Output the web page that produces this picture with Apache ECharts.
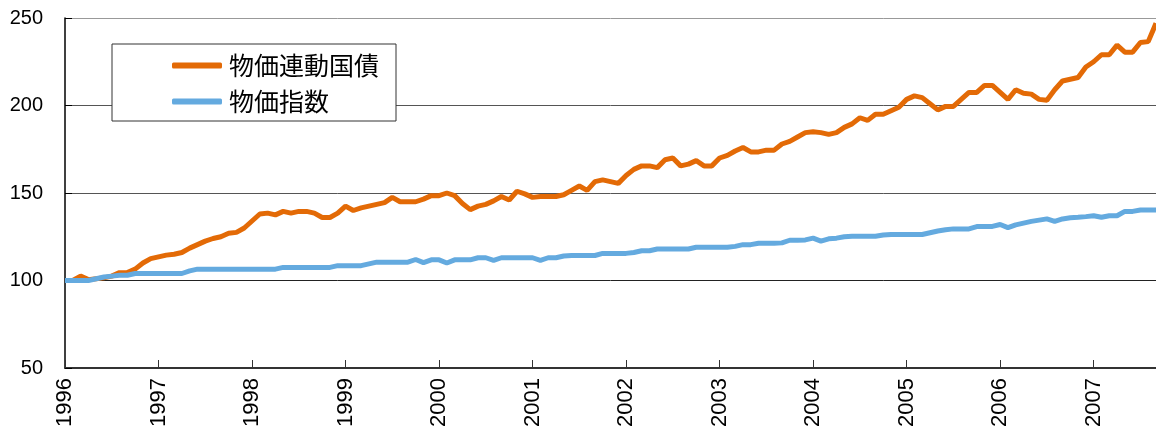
<!DOCTYPE html>
<html>
<head>
<meta charset="utf-8">
<script src="https://cdn.jsdelivr.net/npm/echarts@6/dist/echarts.min.js"></script>
<style>
  html, body { margin: 0; padding: 0; background: #fff; }
  #main { width: 1156px; height: 433px; }
</style>
</head>
<body>
<div id="main"></div>
<script>
// 年ラベル（1月の位置に表示）
var years = ['1996', '1997', '1998', '1999', '2000', '2001', '2002', '2003', '2004', '2005', '2006', '2007'];
var monthCount = 141; // 1996/01 - 2007/09

var seriesNames = ['物価連動国債', '物価指数'];

// 物価連動国債（1996/01 = 100）
var bondIndex = [
    100, 100, 102.5, 100.5, 101, 101.5, 102.5, 104.5, 104.5, 106.5, 110, 112.5,
    113.5, 114.5, 115, 116, 118.5, 120.5, 122.5, 124, 125, 127, 127.5, 130,
    134, 138, 138.5, 137.5, 139.5, 138.5, 139.5, 139.5, 138.5, 136, 136, 138.5,
    142.5, 140, 141.5, 142.5, 143.5, 144.5, 147.5, 145, 145, 145, 146.5, 148.5,
    148.5, 150, 148.5, 144, 140.5, 142.5, 143.5, 145.5, 148, 146, 151, 149.5,
    147.5, 148, 148, 148, 149, 151.5, 154, 151.5, 156.5, 157.5, 156.5, 155.5,
    160, 163.5, 165.5, 165.5, 164.5, 169, 170, 165.5, 166.5, 168.5, 165.5, 165.5,
    170, 171.5, 174, 176, 173.5, 173.5, 174.5, 174.5, 178, 179.5, 182, 184.5,
    185, 184.5, 183.5, 184.5, 187.5, 189.5, 193, 191.5, 195, 195, 197, 199,
    203.5, 205.5, 204.5, 201, 197.5, 199.5, 199.5, 203.5, 207.5, 207.5, 211.5, 211.5,
    207.5, 203.5, 209, 207, 206.5, 203.5, 203, 209, 214, 215, 216, 222,
    225, 229, 229, 234.5, 230.5, 230.5, 236, 236.5, 247
];

// 物価指数（1996/01 = 100）
var priceIndex = [
    100, 100, 100, 100, 101, 102, 102.5, 103, 103, 104, 104, 104,
    104, 104, 104, 104, 105.5, 106.5, 106.5, 106.5, 106.5, 106.5, 106.5, 106.5,
    106.5, 106.5, 106.5, 106.5, 107.5, 107.5, 107.5, 107.5, 107.5, 107.5, 107.5, 108.5,
    108.5, 108.5, 108.5, 109.5, 110.5, 110.5, 110.5, 110.5, 110.5, 112, 110.2, 111.8,
    111.8, 110, 111.8, 111.8, 111.8, 113, 113, 111.5, 113, 113, 113, 113,
    113, 111.5, 113, 113, 114, 114.3, 114.3, 114.3, 114.3, 115.5, 115.5, 115.5,
    115.5, 116, 117, 117, 118, 118, 118, 118, 118, 119, 119, 119,
    119, 119, 119.5, 120.5, 120.5, 121.3, 121.3, 121.3, 121.5, 123, 123, 123.2,
    124.2, 122.5, 123.8, 124.2, 125, 125.3, 125.3, 125.3, 125.3, 126, 126.3, 126.3,
    126.3, 126.3, 126.3, 127.3, 128.3, 129, 129.5, 129.5, 129.5, 130.8, 130.9, 130.9,
    132, 130.2, 131.8, 132.8, 133.8, 134.5, 135.2, 133.8, 135.2, 135.8, 136.1, 136.5,
    137, 136.1, 137, 137, 139.5, 139.5, 140.3, 140.3, 140.3
];

var months = [];
years.forEach(function (y) {
    for (var m = 1; m <= 12; m++) {
        if (months.length < monthCount) months.push(y + '/' + (m < 10 ? '0' + m : m));
    }
});

var myChart = echarts.init(document.getElementById('main'));
var option = {
    animation: false,
    grid: { left: 65, right: 0, top: 18, bottom: 65 },
    legend: {
        data: seriesNames,
        orient: 'vertical',
        left: 112,
        top: 44,
        backgroundColor: '#fff',
        borderColor: '#333',
        borderWidth: 1,
        padding: [9, 17, 7, 60],
        itemWidth: 50,
        itemHeight: 6,
        itemGap: 11,
        icon: 'roundRect',
        textStyle: { fontSize: 25, color: '#000', fontFamily: 'Noto Sans CJK JP', padding: [0, 0, 0, 2] }
    },
    xAxis: {
        type: 'category',
        boundaryGap: false,
        data: months,
        axisLine: { lineStyle: { color: '#333', width: 2 } },
        axisTick: { inside: true, interval: 11, length: 8, lineStyle: { color: '#333' } },
        axisLabel: {
            interval: 11,
            rotate: 90,
            margin: 10,
            fontSize: 22,
            color: '#000',
            fontFamily: 'Liberation Sans',
            formatter: function (v) { return v.slice(0, 4); }
        },
        splitLine: { show: false }
    },
    yAxis: {
        type: 'value',
        min: 50,
        max: 250,
        interval: 50,
        axisLine: { show: true, lineStyle: { color: '#000', width: 1.5 } },
        axisTick: { show: true, inside: true, length: 7, lineStyle: { color: '#000' } },
        axisLabel: { fontSize: 20, color: '#000', margin: 22, fontFamily: 'Liberation Sans' },
        splitLine: { lineStyle: { color: ['#333', '#222', '#555', '#555', '#999'], width: 1 } }
    },
    series: [{
        name: seriesNames[0],
        type: 'line',
        data: bondIndex,
        showSymbol: false,
        color: '#E36A06',
        lineStyle: { width: 5, color: '#E36A06' }
    }, {
        name: seriesNames[1],
        type: 'line',
        data: priceIndex,
        showSymbol: false,
        color: '#64AADF',
        lineStyle: { width: 5, color: '#64AADF' }
    }]
};
myChart.setOption(option);
</script>
</body>
</html>
